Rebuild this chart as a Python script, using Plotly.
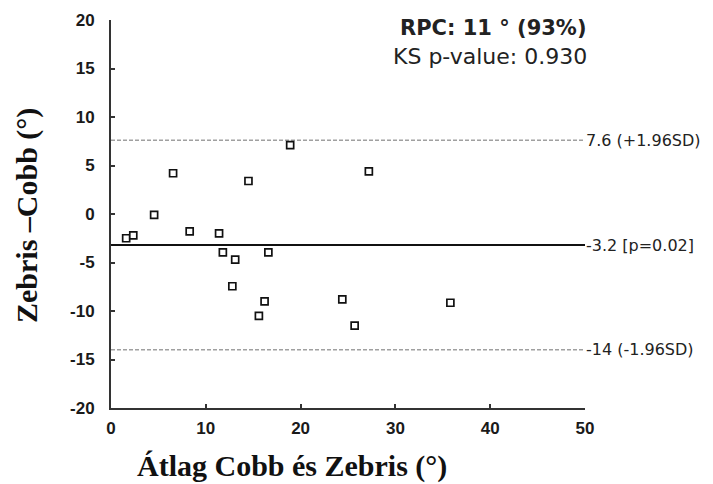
import plotly.graph_objects as go

# Data (Bland-Altman plot)
mean_cobb_zebris = [1.6, 2.35, 4.55, 6.55, 8.3, 11.4, 11.8, 12.8, 13.1, 14.5,
                    15.6, 16.2, 16.6, 18.9, 24.4, 25.7, 27.2, 35.8]
diff_zebris_cobb = [-2.5, -2.2, -0.1, 4.2, -1.8, -2.0, -3.95, -7.45, -4.7, 3.4,
                    -10.5, -9.0, -3.95, 7.1, -8.8, -11.5, 4.4, -9.15]

bias = -3.2
upper_loa = 7.6
lower_loa = -14.0
line_labels = ["7.6 (+1.96SD)", "-3.2 [p=0.02]", "-14 (-1.96SD)"]

x_ticks = [0, 10, 20, 30, 40, 50]
x_ticktext = ["0", "10", "20", "30", "40", "50"]
y_ticks = [-20, -15, -10, -5, 0, 5, 10, 15, 20]
y_ticktext = ["-20", "-15", "-10", "-5", "0", "5", "10", "15", "20"]

x_range = [0, 50]
y_range = [-20, 20]

# page body has an 8px default margin; plot area target (page px): x 111-585, y 20-408
L, R, T, B = 103, 713 - 577, 12, 484 - 400

fig = go.Figure()

for yv, col, dash, w in [(upper_loa, "#a0a0a0", "4px,2px", 1.5),
                         (lower_loa, "#a0a0a0", "4px,2px", 1.5),
                         (bias, "#111111", "solid", 2)]:
    fig.add_trace(go.Scatter(x=x_range, y=[yv, yv], mode="lines",
                             line=dict(color=col, width=w, dash=dash),
                             hoverinfo="skip", showlegend=False))

fig.add_trace(go.Scatter(
    x=mean_cobb_zebris, y=diff_zebris_cobb, mode="markers",
    marker=dict(symbol="square", size=7, color="white",
                line=dict(color="#111111", width=1.7)),
    showlegend=False))

side_font = dict(family="DejaVu Sans, Verdana", size=16, color="#222222")
for yv, txt in zip([upper_loa, bias, lower_loa], line_labels):
    fig.add_annotation(x=1.0, xref="paper", y=yv, yref="y", text=txt,
                       showarrow=False, xanchor="left", xshift=-1,
                       font=side_font)

fig.add_annotation(x=50, xref="x", y=1.0, yref="paper", yshift=-8, xshift=4,
                   text="<b>RPC: 11 ° (93%)</b>", showarrow=False,
                   xanchor="right", yanchor="middle",
                   font=dict(family="DejaVu Sans, Verdana", size=21, color="#222222"))
fig.add_annotation(x=50, xref="x", y=1.0, yref="paper", yshift=-36, xshift=4,
                   text="KS p-value: 0.930", showarrow=False,
                   xanchor="right", yanchor="middle",
                   font=dict(family="DejaVu Sans, Verdana", size=22, color="#222222"))

title_font = dict(family="Liberation Serif, Times New Roman", size=30, color="#111111")
fig.add_annotation(x=(283.5 - L) / (577 - L), xref="paper", y=0, yref="paper",
                   text="<b>Átlag Cobb és Zebris (°)</b>", showarrow=False,
                   xanchor="center", yanchor="middle", yshift=-58,
                   font=title_font)
fig.add_annotation(x=0, xref="paper", y=0.5, yref="paper",
                   text="<b>Zebris –Cobb (°)</b>", showarrow=False, textangle=-90,
                   xanchor="center", yanchor="middle", xshift=-84, yshift=-2,
                   font=title_font)

axis_common = dict(showgrid=False, zeroline=False, showline=True, linecolor="#333333",
                   linewidth=2, ticks="inside", tickcolor="#333333", tickwidth=1.5,
                   automargin=False,
                   tickfont=dict(family="Liberation Sans, Arial", size=17, color="#1a1a1a",
                                 weight="bold"))

fig.update_xaxes(range=x_range, tickvals=x_ticks, ticktext=x_ticktext, ticklen=4,
                 ticklabelstandoff=4, **axis_common)
fig.update_yaxes(range=y_range, tickvals=y_ticks, ticktext=y_ticktext, ticklen=4,
                 ticklabelstandoff=11, **axis_common)

fig.update_layout(width=713, height=484, plot_bgcolor="white", paper_bgcolor="white",
                  margin=dict(l=L, r=R, t=T, b=B), showlegend=False)

fig.write_html("out.html")
